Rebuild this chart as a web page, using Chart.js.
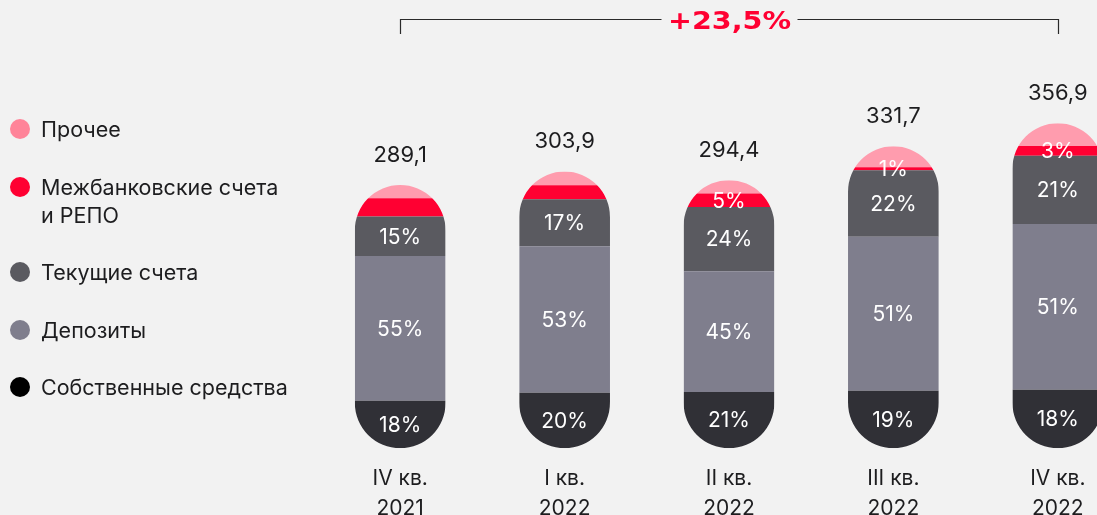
<!DOCTYPE html>
<html lang="ru">
<head>
<meta charset="utf-8">
<title>Структура пассивов</title>
<script src="https://cdn.jsdelivr.net/npm/chart.js@4.4.1/dist/chart.umd.min.js"></script>
<style>
    html, body { margin: 0; padding: 0; background: #f2f2f2; width: 1097px; height: 515px; overflow: hidden; }
    #wrap { position: absolute; left: 0; top: 0; width: 1140px; height: 540px; }
    #legend { position: absolute; left: 0; top: 0; font-family: Inter, "Noto Sans", sans-serif; font-size: 21.5px; color: #1d1d1f; }
    #legend .item { position: absolute; left: 41px; line-height: 28px; white-space: nowrap; }
    #legend .dot { position: absolute; left: -31px; top: 4px; width: 20px; height: 20px; border-radius: 50%; }
</style>
</head>
<body>
<div id="wrap"><canvas id="barChart" width="1140" height="540"></canvas></div>
<div id="legend"></div>
<script>
// Data
const categories = [['IV кв.', '2021'], ['I кв.', '2022'], ['II кв.', '2022'], ['III кв.', '2022'], ['IV кв.', '2022']];
const totals = [289.1, 303.9, 294.4, 331.7, 356.9];
const ownFundsPct = [18, 20, 21, 19, 18];
const depositsPct = [55, 53, 45, 51, 51];
const currentPct = [15, 17, 24, 22, 21];
const interbankPct = [7, 5, 5, 1, 3];
const otherPct = [5, 5, 5, 7, 7];

// series, bottom to top of the stack
const series = [
    { name: 'Собственные средства', pct: ownFundsPct, color: '#303036', dot: '#000000', hideLabel: [] },
    { name: 'Депозиты', pct: depositsPct, color: '#7f7e8d', dot: '#7f7e8d', hideLabel: [] },
    { name: 'Текущие счета', pct: currentPct, color: '#5a5a60', dot: '#5a5a60', hideLabel: [] },
    { name: 'Межбанковские счета\nи РЕПО', pct: interbankPct, color: '#ff0032', dot: '#ff0032', hideLabel: [0, 1] },
    { name: 'Прочее', pct: otherPct, color: '#ff9cae', dot: '#ff8499', hideLabel: [0, 1, 2, 3, 4] }
];

const fontFamily = 'Inter, "Noto Sans", sans-serif';
const fmt = v => v.toFixed(1).replace('.', ',');

// Legend (html, top to bottom)
const legendTops = [115, 173, 258, 316, 373];
const legendEl = document.getElementById('legend');
series.slice().reverse().forEach((s, i) => {
    const item = document.createElement('div');
    item.className = 'item';
    item.style.top = legendTops[i] + 'px';
    item.innerHTML = '<span class="dot" style="background:' + s.dot + '"></span>' + s.name.replace('\n', '<br>');
    legendEl.appendChild(item);
});

// clip the whole stack to one pill shape
const pillPlugin = {
    id: 'pill',
    beforeDatasetsDraw(chart) {
        const ctx = chart.ctx;
        const y = chart.scales.y;
        ctx.save();
        ctx.beginPath();
        chart.getDatasetMeta(0).data.forEach((bar, i) => {
            const top = y.getPixelForValue(totals[i]);
            const bottom = y.getPixelForValue(0);
            ctx.roundRect(bar.x - bar.width / 2, top, bar.width, bottom - top, bar.width / 2);
        });
        ctx.clip();
    },
    afterDatasetsDraw(chart) {
        const ctx = chart.ctx;
        const y = chart.scales.y;
        ctx.restore();

        ctx.save();
        ctx.textAlign = 'center';
        ctx.textBaseline = 'middle';
        // percent labels
        ctx.fillStyle = '#ffffff';
        ctx.font = '21px ' + fontFamily;
        series.forEach((s, di) => {
            chart.getDatasetMeta(di).data.forEach((bar, i) => {
                if (s.hideLabel.includes(i)) return;
                ctx.fillText(s.pct[i] + '%', bar.x, (bar.y + bar.base) / 2 + 1);
            });
        });
        // totals
        ctx.fillStyle = '#1d1d1f';
        ctx.font = '22px ' + fontFamily;
        chart.getDatasetMeta(0).data.forEach((bar, i) => {
            ctx.fillText(fmt(totals[i]), bar.x, y.getPixelForValue(totals[i]) - 30);
        });

        // growth bracket
        const x = chart.scales.x;
        const x1 = Math.round(x.getPixelForValue(0)) + 0.5;
        const x2 = Math.round(x.getPixelForValue(categories.length - 1)) + 0.5;
        const growth = '+' + fmt((totals[totals.length - 1] / totals[0] - 1) * 100) + '%';
        const cx = (x1 + x2) / 2;
        const lineY = 19.5;
        const gap = 68;
        ctx.strokeStyle = '#2a2a2a';
        ctx.lineWidth = 1.2;
        ctx.beginPath();
        ctx.moveTo(x1, 34);
        ctx.lineTo(x1, lineY);
        ctx.lineTo(cx - gap, lineY);
        ctx.moveTo(cx + gap, lineY);
        ctx.lineTo(x2, lineY);
        ctx.lineTo(x2, 34);
        ctx.stroke();
        ctx.fillStyle = '#ff0032';
        ctx.font = 'bold 24px "DejaVu Sans", sans-serif';
        ctx.translate(cx, 23);
        ctx.scale(1.19, 1);
        ctx.fillText(growth, 0, 0);
        ctx.restore();
    }
};

const chartConfig = {
    type: 'bar',
    data: {
        labels: categories,
        datasets: series.map(s => ({
            label: s.name,
            data: s.pct.map((p, i) => totals[i] * p / 100),
            backgroundColor: s.color,
            borderWidth: 0,
            barPercentage: 0.69,
            categoryPercentage: 0.8
        }))
    },
    options: {
        responsive: false,
        animation: false,
        layout: { padding: { left: 318, right: 0, top: 84, bottom: 9 } },
        plugins: {
            legend: { display: false },
            tooltip: { enabled: false }
        },
        scales: {
            x: {
                stacked: true,
                grid: { display: false },
                border: { display: false },
                ticks: {
                    color: '#1d1d1f',
                    padding: 8,
                    font: { family: fontFamily, size: 21, lineHeight: 1.4 }
                }
            },
            y: {
                stacked: true,
                display: false,
                min: 0,
                max: 400
            }
        }
    },
    plugins: [pillPlugin]
};

const ctx = document.getElementById('barChart').getContext('2d');
const structureChart = new Chart(ctx, chartConfig);
</script>
</body>
</html>
